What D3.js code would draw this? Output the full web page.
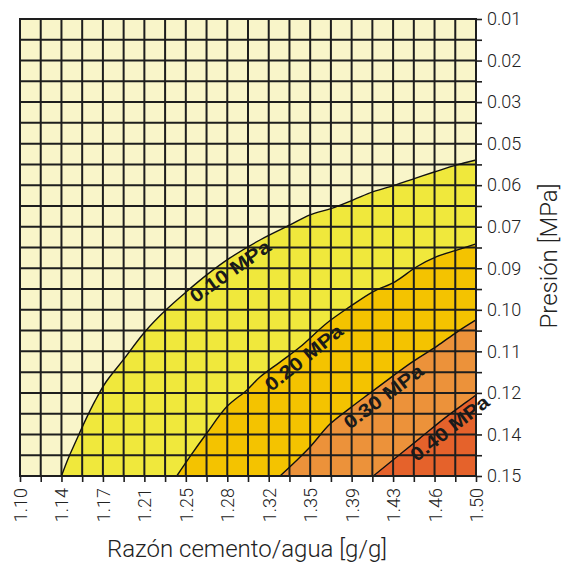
<!DOCTYPE html>
<html>
<head>
<meta charset="utf-8">
<script src="https://cdn.jsdelivr.net/npm/d3@7"></script>
<style>
  html, body { margin: 0; padding: 0; background: #ffffff; }
  svg { display: block; }
</style>
</head>
<body>
<svg id="chart" width="563" height="564"></svg>
<script>
// ---- data ----
const xLabels = ["1.10","1.14","1.17","1.21","1.25","1.28","1.32","1.35","1.39","1.43","1.46","1.50"];
const yLabels = ["0.01","0.02","0.03","0.05","0.06","0.07","0.09","0.10","0.11","0.12","0.14","0.15"];
const levels = ["0.10 MPa","0.20 MPa","0.30 MPa","0.40 MPa"];
const levelColors = ["#f0e83c","#f4c300","#ec923a","#e5622b"];
const baseColor = "#f9f5c9";

// contour lines as [ratio, pressure] points
const contour010 = [[1.1364,0.150],[1.1421,0.1448],[1.1491,0.1393],[1.1570,0.1332],[1.1658,0.1270],[1.1754,0.1212],
  [1.1904,0.1145],[1.2096,0.1058],[1.2272,0.0994],[1.2462,0.0935],[1.2638,0.0884],[1.2842,0.0832],[1.3105,0.0777],
  [1.3368,0.0731],[1.3544,0.0700],[1.3734,0.0680],[1.3924,0.0654],[1.4099,0.0629],[1.4289,0.0609],[1.4465,0.0588],
  [1.4640,0.0568],[1.4831,0.0547],[1.5000,0.0532]];
const contour020 = [[1.2375,0.150],[1.2500,0.1436],[1.2638,0.1369],[1.2813,0.1288],[1.2989,0.1237],[1.3105,0.1197],
  [1.3281,0.1151],[1.3456,0.1105],[1.3690,0.1032],[1.3895,0.0981],[1.4099,0.0935],[1.4289,0.0905],[1.4480,0.0859],
  [1.4655,0.0828],[1.4831,0.0808],[1.5000,0.0789]];
const contour030 = [[1.3281,0.150],[1.3412,0.1457],[1.3544,0.1411],[1.3719,0.1341],[1.3895,0.1292],[1.4070,0.1246],
  [1.4246,0.1200],[1.4439,0.1151],[1.4658,0.1102],[1.4833,0.1059],[1.5000,0.1022]];
const contour040 = [[1.4099,0.150],[1.4304,0.1442],[1.4509,0.1384],[1.4728,0.1322],[1.4918,0.1273],[1.5000,0.1252]];
const contours = [contour010, contour020, contour030, contour040];
const labelRatios = [1.279, 1.343, 1.413, 1.471];

// ---- layout ----
const svg = d3.select("#chart");
const x = d3.scaleLinear().domain([1.10, 1.50]).range([20, 476]);
const y = d3.scaleLinear().domain([0.01, 0.15]).range([19, 476]);
const nGrid = 22;
const gridX = d3.range(nGrid + 1).map(i => x.domain()[0] + i * (x.domain()[1] - x.domain()[0]) / nGrid);
const gridY = d3.range(nGrid + 1).map(i => y.domain()[0] + i * (y.domain()[1] - y.domain()[0]) / nGrid);
const ink = "#1e1e1e";
const tickFont = "Roboto, 'Liberation Sans', Arial, sans-serif";

// background
svg.append("rect")
  .attr("x", x(1.10)).attr("y", y(0.01))
  .attr("width", x(1.50) - x(1.10)).attr("height", y(0.15) - y(0.01))
  .attr("fill", baseColor);

const lineGen = d3.line().x(d => x(d[0])).y(d => y(d[1])).curve(d3.curveCatmullRom.alpha(0.5));

// filled bands (region beyond each contour toward high ratio / high pressure)
contours.forEach((c, i) => {
  svg.append("path")
    .attr("d", lineGen(c) + `L${x(1.50)},${y(0.15)}Z`)
    .attr("fill", levelColors[i]);
});

// grid
const grid = svg.append("g").attr("stroke", ink).attr("stroke-width", 2);
grid.selectAll("line.v").data(gridX).join("line")
  .attr("x1", d => x(d)).attr("x2", d => x(d))
  .attr("y1", y(0.01)).attr("y2", y(0.15));
grid.selectAll("line.h").data(gridY).join("line")
  .attr("y1", d => y(d)).attr("y2", d => y(d))
  .attr("x1", x(1.10)).attr("x2", x(1.50));

// contour lines
contours.forEach(c => {
  svg.append("path").attr("d", lineGen(c))
    .attr("fill", "none").attr("stroke", "#111").attr("stroke-width", 1.4);
});

// contour labels
function interpY(c, r) {
  for (let k = 0; k < c.length - 1; k++) {
    if (r >= c[k][0] && r <= c[k + 1][0]) {
      const t = (r - c[k][0]) / (c[k + 1][0] - c[k][0]);
      return c[k][1] + t * (c[k + 1][1] - c[k][1]);
    }
  }
  return c[c.length - 1][1];
}
contours.forEach((c, i) => {
  const r = labelRatios[i];
  const px = x(r), py = y(interpY(c, r));
  const r1 = Math.max(r - 0.03, c[0][0]), r2 = Math.min(r + 0.03, 1.50);
  const ang = Math.atan2(y(interpY(c, r2)) - y(interpY(c, r1)), x(r2) - x(r1)) * 180 / Math.PI;
  svg.append("text")
    .attr("transform", `translate(${px},${py}) rotate(${ang})`)
    .attr("text-anchor", "middle")
    .attr("dy", "0.92em")
    .attr("font-family", "'Liberation Sans', Arial, sans-serif")
    .attr("font-weight", "bold")
    .attr("font-size", 19)
    .attr("textLength", 94)
    .attr("lengthAdjust", "spacingAndGlyphs")
    .attr("fill", "#1a1a1a")
    .text(levels[i]);
});

// border
svg.append("rect")
  .attr("x", x(1.10)).attr("y", y(0.01))
  .attr("width", x(1.50) - x(1.10)).attr("height", y(0.15) - y(0.01))
  .attr("fill", "none").attr("stroke", ink).attr("stroke-width", 2);

// bottom axis
const gx = svg.append("g").attr("transform", `translate(0,${y(0.15)})`)
  .call(d3.axisBottom(x).tickValues(gridX).tickSize(6)
    .tickFormat((d, i) => i % 2 ? "" : xLabels[i / 2]));
gx.select(".domain").remove();
gx.selectAll(".tick line").attr("stroke", ink).attr("stroke-width", 1.6);
gx.selectAll(".tick text")
  .attr("transform", "rotate(-90)")
  .attr("text-anchor", "end")
  .attr("x", -12).attr("y", 0).attr("dy", "0.36em")
  .attr("font-family", tickFont).attr("font-weight", 300)
  .attr("font-size", 18).attr("fill", "#222");

// right axis
const gy = svg.append("g").attr("transform", `translate(${x(1.50)},0)`)
  .call(d3.axisRight(y).tickValues(gridY).tickSize(6).tickPadding(5)
    .tickFormat((d, i) => i % 2 ? "" : yLabels[i / 2]));
gy.select(".domain").remove();
gy.selectAll(".tick line").attr("stroke", ink).attr("stroke-width", 1.6);
gy.selectAll(".tick text")
  .attr("font-family", tickFont).attr("font-weight", 300)
  .attr("font-size", 18).attr("fill", "#222");

// axis titles
svg.append("text")
  .attr("x", 247).attr("y", 557)
  .attr("text-anchor", "middle")
  .attr("font-family", tickFont).attr("font-weight", 300)
  .attr("font-size", 24).attr("fill", "#222")
  .text("Razón cemento/agua [g/g]");
svg.append("text")
  .attr("transform", "translate(557,256) rotate(-90)")
  .attr("text-anchor", "middle")
  .attr("font-family", tickFont).attr("font-weight", 300)
  .attr("font-size", 24).attr("fill", "#222")
  .text("Presión [MPa]");
</script>
</body>
</html>
